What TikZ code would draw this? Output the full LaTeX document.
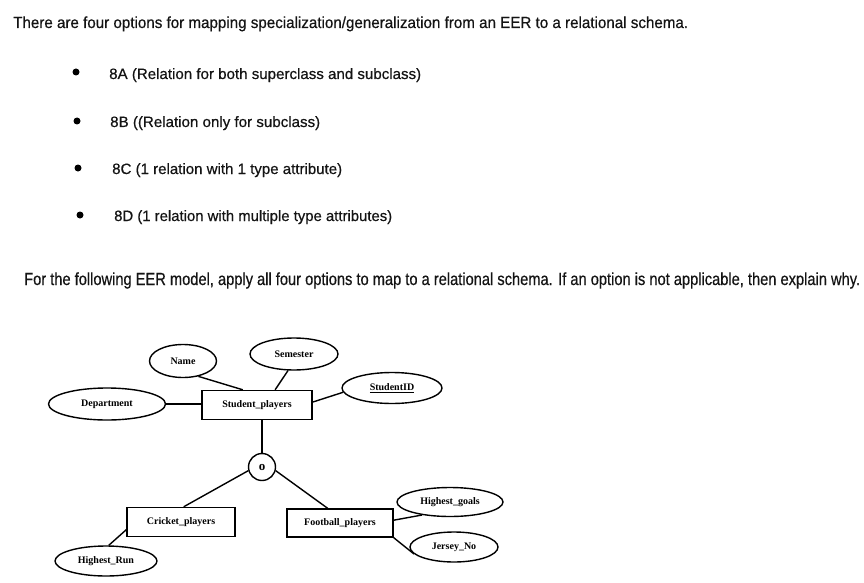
\documentclass[tikz,border=0pt]{standalone}
\usepackage{fontspec}
\setmainfont{Liberation Sans}[FakeBold=0.5]
\newfontfamily\erfont{Liberation Serif}
\usetikzlibrary{shapes.geometric}
\newcommand\fitw[2]{\resizebox{#1}{\height}{#2}}
\begin{document}
\begin{tikzpicture}[x=1pt,y=-1pt,
  txt/.style={anchor=base west, inner sep=0, text=black!92},
  bigtxt/.style={txt, font=\fontsize{16}{19}\selectfont},
  bultxt/.style={txt, font=\fontsize{15}{18}\selectfont},
  bul/.style={circle, fill=black, inner sep=0, minimum size=7pt},
  attr/.style={ellipse, draw, line width=1.4pt, inner sep=0, font=\erfont\bfseries\fontsize{10}{12}\selectfont},
  ent/.style={rectangle, draw, line width=1.4pt, inner sep=0, font=\erfont\bfseries\fontsize{10}{12}\selectfont},
  conn/.style={line width=1.4pt}]
\useasboundingbox (0,0) rectangle (864,583);
\fill[white] (0,0) rectangle (864,583);

% texts
\node[bigtxt] (title) at (13,28) {\fitw{675pt}{There are four options for mapping specialization/generalization from an EER to a relational schema.}};
\node[bul] (b1) at (76,72) {};
\node[bul] (b2) at (77,121) {};
\node[bul] (b3) at (78,168) {};
\node[bul] (b4) at (80,215) {};
\node[bultxt] (t1) at (109,79) {\fitw{312pt}{8A (Relation for both superclass and subclass)}};
\node[bultxt] (t2) at (110,127) {\fitw{210pt}{8B ((Relation only for subclass)}};
\node[bultxt] (t3) at (112,174) {\fitw{230pt}{8C (1 relation with 1 type attribute)}};
\node[bultxt] (t4) at (114,221) {\fitw{278pt}{8D (1 relation with multiple type attributes)}};
\node[txt, font=\fontsize{17.5}{20}\selectfont] (line3) at (24,285) {\fitw{836pt}{For the following EER model, apply all four options to map to a relational schema. If an option is not applicable, then explain why.}};

% EER diagram
\node[ent, minimum width=110pt, minimum height=29pt] (sp) at (257,405) {Student\_players};
\node[attr, minimum width=67pt, minimum height=33pt] (name) at (183,361) {Name};
\node[attr, minimum width=88pt, minimum height=32pt] (sem) at (294,354) {Semester};
\node[attr, minimum width=100pt, minimum height=31pt] (sid) at (392,388) {\underline{StudentID}};
\node[attr, minimum width=117pt, minimum height=32pt] (dep) at (107,404) {Department};
\node[circle, draw, line width=1.4pt, inner sep=0, minimum size=27pt, font=\erfont\bfseries\fontsize{13}{14}\selectfont] (disj) at (262,467) {o};
\node[ent, minimum width=108pt, minimum height=29pt] (cr) at (181,522) {Cricket\_players};
\node[ent, minimum width=106pt, minimum height=28pt] (fb) at (340,523) {Football\_players};
\node[attr, minimum width=106pt, minimum height=29pt] (hg) at (450,502) {Highest\_goals};
\node[attr, minimum width=88pt, minimum height=30pt] (jn) at (454,547) {Jersey\_No};
\node[attr, minimum width=102pt, minimum height=30pt] (hr) at (106,561) {Highest\_Run};

\draw[conn] (name.-45) -- (sp.133);
\draw[conn] (sem.-110) -- (sp.40);
\draw[conn] (sid.-175) -- (sp.3);
\draw[conn] (dep.east) -- (dep.east -| sp.west);
\draw[conn] (disj.north) -- (disj.north |- sp.south);
\draw[conn] (disj.195) -- (cr.80);
\draw[conn] (disj.-15) -- (fb.130);
\draw[conn] (fb.3) -- (hg.205);
\draw[conn] (fb.south east) -- (jn.190);
\draw[conn] (cr.188) -- (hr.80);
\end{tikzpicture}
\end{document}
